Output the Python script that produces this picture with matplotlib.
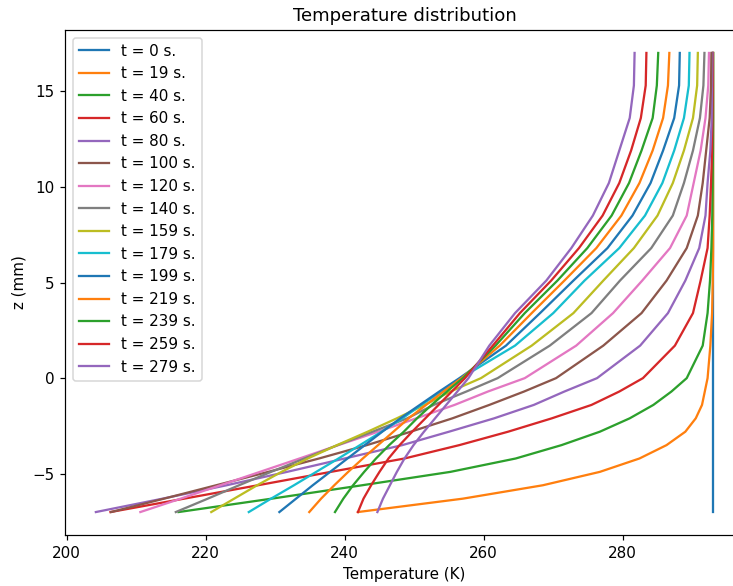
import matplotlib
matplotlib.use("Agg")
import matplotlib.pyplot as plt

# Grid of heights (mm)
z = [-7.0, -6.3, -5.6, -4.9, -4.2, -3.5, -2.8, -2.1, -1.4, -0.7, 0.0,
     1.7, 3.4, 5.1, 6.8, 8.5, 10.2, 11.9, 13.6, 15.3, 17.0]

times = [0, 19, 40, 60, 80, 100, 120, 140, 159, 179, 199, 219, 239, 259, 279]

T_0 = [293.0] * 21
T_19 = [241.9, 257.0, 268.5, 276.7, 282.4, 286.3, 289.0, 290.5, 291.4, 291.8, 292.2,
        292.6, 292.85, 292.95, 293.0, 293.0, 293.0, 293.0, 293.0, 293.0, 293.0]
T_40 = [216.1, 229.5, 242.5, 255.2, 264.6, 271.2, 276.7, 281.0, 284.4, 287.0, 289.2,
        291.5, 292.2, 292.55, 292.75, 292.88, 292.93, 292.97, 293.0, 293.0, 293.0]
T_60 = [206.3, 216.9, 227.5, 238.0, 248.6, 256.5, 263.5, 269.8, 275.5, 279.5, 282.9,
        287.5, 290.1, 291.2, 292.2, 292.5, 292.7, 292.85, 292.9, 292.95, 292.95]
T_80 = [204.2, 213.8, 223.0, 231.7, 240.0, 248.3, 255.0, 261.5, 267.2, 271.6, 276.3,
        282.5, 286.5, 289.0, 291.0, 291.9, 292.2, 292.6, 292.8, 292.85, 292.9]
T_100 = [206.4, 214.0, 221.5, 229.0, 236.3, 243.2, 249.5, 255.5, 260.8, 265.8, 270.4,
         277.2, 282.7, 286.3, 289.2, 290.8, 291.5, 292.0, 292.5, 292.7, 292.75]
T_120 = [210.6, 216.4, 222.1, 227.8, 233.5, 239.1, 244.8, 250.3, 255.8, 260.6, 265.9,
         273.3, 278.6, 282.8, 286.8, 289.2, 290.2, 291.2, 291.9, 292.3, 292.4]
T_140 = [215.7, 220.3, 224.8, 229.4, 234.2, 239.0, 244.0, 249.0, 252.8, 257.5, 262.0,
         269.5, 275.5, 279.6, 284.1, 287.2, 288.8, 290.1, 291.1, 291.6, 291.75]
T_159 = [220.8, 224.1, 227.4, 230.9, 234.7, 238.9, 243.3, 247.5, 251.5, 255.2, 259.6,
         266.9, 272.9, 277.2, 281.6, 285.0, 287.2, 288.8, 290.1, 290.7, 290.8]
T_179 = [226.2, 229.4, 232.7, 235.9, 239.1, 242.2, 245.3, 248.3, 251.0, 253.9, 256.7,
         264.5, 270.0, 274.5, 279.5, 283.2, 285.7, 287.4, 288.8, 289.5, 289.6]
T_199 = [230.6, 233.0, 235.4, 237.9, 240.4, 242.9, 245.4, 248.0, 250.8, 253.6, 256.5,
         263.2, 268.1, 272.9, 277.8, 281.4, 284.0, 285.8, 287.4, 288.1, 288.2]
T_219 = [234.9, 236.6, 238.5, 240.5, 242.6, 244.8, 247.0, 249.2, 251.7, 254.2, 256.8,
         262.3, 266.9, 271.6, 276.2, 279.8, 282.4, 284.3, 285.8, 286.5, 286.7]
T_239 = [238.6, 239.8, 241.2, 242.8, 244.5, 246.4, 248.5, 250.4, 252.5, 254.7, 257.0,
         261.7, 265.9, 270.6, 274.9, 278.4, 280.9, 282.7, 284.3, 284.9, 285.1]
T_259 = [241.9, 242.7, 243.8, 245.0, 246.3, 247.9, 249.7, 251.6, 253.5, 255.4, 257.3,
         261.3, 265.2, 269.7, 273.7, 277.1, 279.5, 281.2, 282.6, 283.3, 283.4]
T_279 = [244.7, 245.5, 246.5, 247.5, 248.6, 249.9, 251.4, 253.0, 254.6, 256.2, 257.8,
         260.8, 264.5, 269.0, 272.6, 275.7, 278.0, 279.5, 281.0, 281.6, 281.7]

profiles = [T_0, T_19, T_40, T_60, T_80, T_100, T_120, T_140, T_159, T_179,
            T_199, T_219, T_239, T_259, T_279]

DPI = 109
W, H = 733, 586
fig = plt.figure(figsize=(W / DPI, H / DPI), dpi=DPI)
left, right, top, bottom = 65, 744, 30, 535
ax = fig.add_axes([left / W, 1 - bottom / H, (right - left) / W, (bottom - top) / H])

for t, T in zip(times, profiles):
    ax.plot(T, z, label=f"t = {t} s.")

ax.set_title("Temperature distribution")
ax.set_xlabel("Temperature (K)")
ax.set_ylabel("z (mm)")
ax.legend(loc="upper left")

fig.savefig("out.png", dpi=DPI)
